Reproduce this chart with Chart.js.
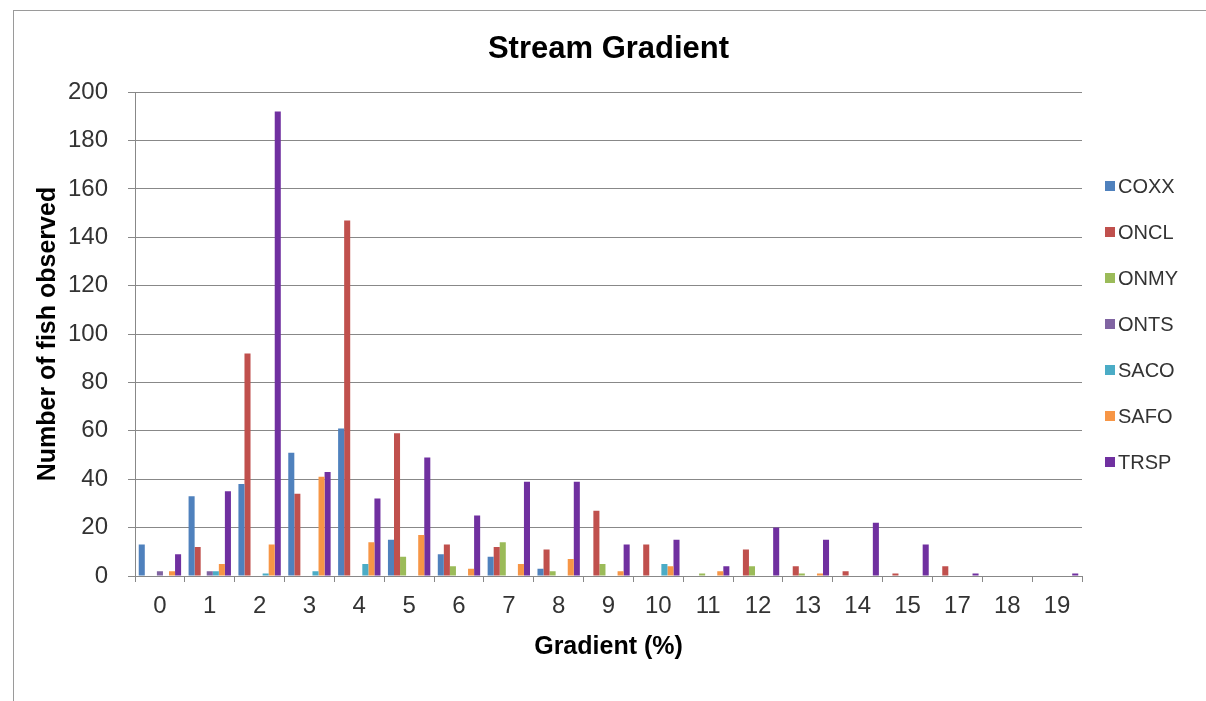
<!DOCTYPE html>
<html><head><meta charset="utf-8">
<script src="https://cdn.jsdelivr.net/npm/chart.js@4/dist/chart.umd.min.js"></script>
<style>
html,body{margin:0;padding:0;background:#fff;overflow:hidden;}
#frame{position:absolute;left:13px;top:10px;width:1200px;height:700px;border-left:1px solid #9a9a9a;border-top:1px solid #9a9a9a;}
#wrap{position:absolute;left:0;top:0;width:1206px;height:701px;}
</style></head>
<body><div id="frame"></div><div id="wrap"><canvas id="c" width="1206" height="701"></canvas></div>
<script>
const categories = ['0','1','2','3','4','5','6','7','8','9','10','11','12','13','14','15','17','18','19'];
const seriesNames = ['COXX','ONCL','ONMY','ONTS','SACO','SAFO','TRSP'];
const COXX = [13,33,38,51,61,15,9,8,3,0,0,0,0,0,0,0,0,0,0];
const ONCL = [0,12,92,34,147,59,13,12,11,27,13,0,11,4,2,1,4,0,0];
const ONMY = [0,0,0,0,0,8,4,14,2,5,0,1,4,1,0,0,0,0,0];
const ONTS = [2,2,0,0,0,0,0,0,0,0,0,0,0,0,0,0,0,0,0];
const SACO = [0,2,1,2,5,0,0,0,0,0,5,0,0,0,0,0,0,0,0];
const SAFO = [2,5,13,41,14,17,3,5,7,2,4,2,0,1,0,0,0,0,0];
const TRSP = [9,35,192,43,32,49,25,39,39,13,15,4,20,15,22,13,1,0,1];
const yTicks = [0,20,40,60,80,100,120,140,160,180,200];
const colors = ['#4F81BD','#C0504D','#9BBB59','#8064A2','#4BACC6','#F79646','#7030A0'];

const FONT = "'Liberation Sans', Arial, sans-serif";
const seriesData = [COXX, ONCL, ONMY, ONTS, SACO, SAFO, TRSP];

const sideLegend = {
  id: 'sideLegend',
  afterDraw(chart, args, opts) {
    const ctx = chart.ctx;
    ctx.save();
    ctx.font = opts.fontSize + 'px ' + FONT;
    ctx.textBaseline = 'middle';
    ctx.textAlign = 'left';
    chart.data.datasets.forEach((ds, i) => {
      const y = opts.y0 + i * opts.dy;
      ctx.fillStyle = ds.backgroundColor;
      ctx.fillRect(opts.x, Math.round(y - opts.box / 2), opts.box, opts.box);
      ctx.fillStyle = '#333';
      ctx.fillText(ds.label, opts.x + opts.box + opts.gap, y + 1);
    });
    ctx.restore();
  }
};

new Chart(document.getElementById('c'), {
  type: 'bar',
  data: {
    labels: categories,
    datasets: seriesNames.map((n, i) => ({
      label: n,
      data: seriesData[i],
      backgroundColor: colors[i],
      borderWidth: 0,
      categoryPercentage: 0.85,
      barPercentage: 1.0
    }))
  },
  plugins: [sideLegend],
  options: {
    responsive: false,
    animation: false,
    devicePixelRatio: 1,
    layout: { padding: { left: 33, right: 124, top: 0, bottom: 0 } },
    plugins: {
      legend: { display: false },
      tooltip: { enabled: false },
      title: {
        display: true, text: 'Stream Gradient', fullSize: false,
        font: { family: FONT, size: 31, weight: 'bold' }, color: '#000',
        padding: { top: 31, bottom: 24 }
      },
      sideLegend: { x: 1105, y0: 186, dy: 46, box: 10, gap: 3, fontSize: 20 }
    },
    scales: {
      x: {
        offset: true,
        grid: { display: true, drawOnChartArea: false, drawTicks: true, tickLength: 6, color: '#888', offset: true },
        border: { display: true, color: '#888' },
        ticks: { font: { family: FONT, size: 24 }, color: '#333', padding: 10, maxRotation: 0, autoSkip: false },
        title: { display: true, text: 'Gradient (%)', font: { family: FONT, size: 25, weight: 'bold' }, color: '#000', padding: { top: 0, bottom: 39 } },
        afterFit(s) { s.height = 125; }
      },
      y: {
        min: 0, max: 200,
        afterBuildTicks(s) { s.ticks = yTicks.map(v => ({ value: v })); },
        ticks: { font: { family: FONT, size: 24 }, color: '#333', padding: 20 },
        grid: { color: '#888', tickLength: 7 },
        border: { display: true, color: '#888' },
        title: { display: true, text: 'Number of fish observed', font: { family: FONT, size: 25, weight: 'bold' }, color: '#000', padding: { top: 0, bottom: 0 } },
        afterFit(s) { s.width = 102; }
      }
    }
  }
});
</script>
</body></html>
